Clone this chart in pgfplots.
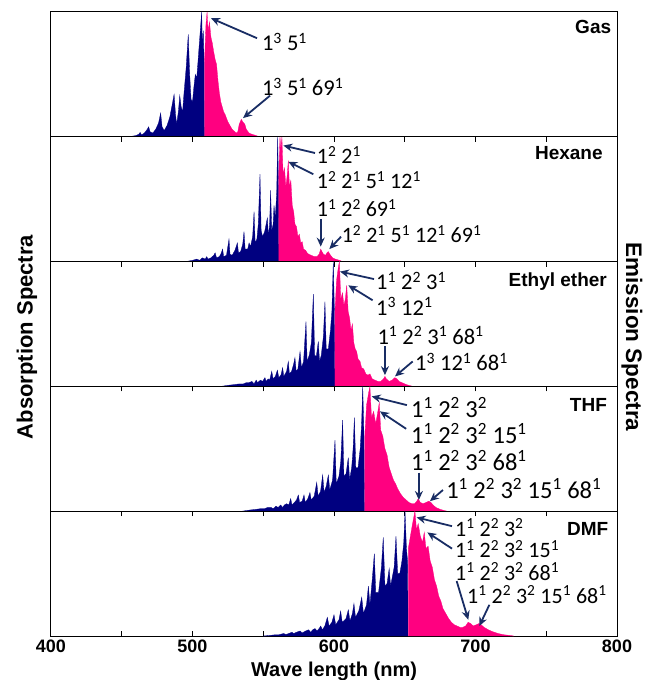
\documentclass[border=0pt]{standalone}
\usepackage{fontspec}
\setmainfont{Liberation Sans}
\newfontfamily\annfont{Carlito}
\usepackage{pgfplots}
\pgfplotsset{compat=1.18}
\usetikzlibrary{arrows.meta}

\definecolor{absc}{RGB}{0,0,128}
\definecolor{emic}{RGB}{255,0,128}
\definecolor{arrc}{RGB}{25,45,100}

\pgfplotsset{
  panel/.style={
    scale only axis, width=566pt, height=124.8pt,
    xmin=400, xmax=800, ymin=0, ymax=1,
    ytick=\empty,
    xtick={400,500,600,700,800},
    minor xtick={450,550,650,750},
    tick pos=bottom, xtick align=outside,
    xticklabels={},
    axis line style={line width=1pt},
    every tick/.style={black, line width=1pt},
    major tick length=5pt, minor tick length=5pt,
    clip=false,
  },
  abs/.style={fill=absc, draw=absc, line width=0.3pt},
  emi/.style={fill=emic, draw=emic, line width=0.3pt},
}
\tikzset{
  ann/.style={font=\annfont\fontsize{22.5}{24}\selectfont, anchor=west, inner sep=0pt},
  annb/.style={font=\annfont\fontsize{24.5}{26}\selectfont, anchor=west, inner sep=0pt},
  anns/.style={font=\annfont\fontsize{22}{24}\selectfont, anchor=west, inner sep=0pt},
  arr/.style={-{Stealth[length=9pt,width=8pt]}, line width=1.8pt, color=arrc},
  lab/.style={font=\bfseries\fontsize{19}{22}\selectfont, anchor=east, inner sep=0pt},
}
\newcommand{\s}[1]{\textsuperscript{#1}}

\begin{document}
\begin{tikzpicture}
\useasboundingbox (-51pt,-44pt) rectangle (599pt,636pt);

% ---- Gas
\begin{axis}[panel, at={(0pt,499.2pt)}, anchor=south west]
\addplot[abs] coordinates {
(455,0)(460,0.01)(462,0.02)(463,0.035)(464,0.015)(466,0.03)(468,0.06)(469,0.08)(470,0.04)
(472,0.03)(474,0.06)(476,0.11)(477.5,0.19)(478.5,0.08)(480,0.05)(482,0.09)(484,0.16)(486,0.28)
(487,0.34)(488,0.18)(488.8,0.1)(490,0.2)(491,0.33)(492,0.24)(493,0.2)(494,0.35)(495.5,0.55)
(497,0.82)(498,0.5)(499,0.3)(500,0.28)(501,0.4)(502,0.5)(503,0.47)(504,0.62)(505.5,0.85)
(506.5,1.0)(507,0.7)(507.6,0.85)(508.2,0.6)(508.4,0)};
\addplot[emi] coordinates {
(508.5,0)(508.5,0.6)(509.5,0.9)(510.3,1.0)(511,0.85)(512,0.92)(513,0.8)(514,0.75)(515,0.68)
(516,0.62)(517,0.58)(518,0.45)(519,0.35)(520,0.28)(521,0.24)(522,0.2)(523,0.18)(524,0.15)
(525,0.12)(526,0.1)(527,0.08)(528,0.06)(529,0.05)(530,0.04)(531,0.03)(532,0.04)(533,0.1)
(534.5,0.14)(535.5,0.12)(537,0.1)(538,0.06)(540,0.03)(542,0.02)(545,0.01)(547,0)};
\node[lab] at (axis cs:796,0.88) {Gas};
\node[ann] at (axis cs:549,0.76) {1\s{3} 5\s{1}};
\draw[arr] (axis cs:545.6,0.79) -- (axis cs:513.1,0.95);
\node[ann] at (axis cs:549,0.40) {1\s{3} 5\s{1} 69\s{1}};
\draw[arr] (axis cs:554.8,0.33) -- (axis cs:535.7,0.15);
\end{axis}

% ---- Hexane
\begin{axis}[panel, at={(0pt,374.4pt)}, anchor=south west]
\addplot[abs] coordinates {
(495,0)(500,0.01)(503,0.02)(505,0.01)(507,0.03)(509,0.02)(510,0.04)(511,0.02)(513,0.03)
(515,0.05)(516,0.07)(517,0.03)(519,0.04)(520,0.06)(521.3,0.10)(522,0.04)(524,0.05)(525.8,0.18)
(526.5,0.06)(528,0.05)(530,0.09)(531.7,0.15)(532.5,0.07)(534,0.08)(535.5,0.14)(536.4,0.24)
(537.2,0.1)(539,0.1)(540,0.15)(541,0.12)(542.5,0.2)(543.5,0.40)(544.3,0.15)(545.5,0.18)
(546.5,0.3)(547.7,0.70)(548.5,0.25)(549.5,0.2)(551,0.24)(552.9,0.35)(553.7,0.2)(554.5,0.3)
(555.2,0.57)(556,0.25)(557,0.3)(557.6,0.45)(558.5,0.35)(559.5,0.55)(560.2,1.0)(560.8,0.6)(561,0)};
\addplot[emi] coordinates {
(561,0)(561,0.7)(561.8,1.0)(562.5,0.9)(563.2,1.0)(564,0.7)(565,0.75)(566,0.6)(567,0.7)
(567.7,0.81)(568.5,0.6)(569.5,0.65)(570.5,0.45)(571.5,0.4)(572.4,0.30)(573.5,0.28)(574.5,0.2)
(575.5,0.22)(576.5,0.15)(577.5,0.16)(578.5,0.1)(580,0.09)(581,0.07)(582,0.06)(584,0.05)
(586,0.04)(588,0.04)(589.5,0.06)(590.6,0.10)(591.5,0.08)(592.5,0.06)(594,0.05)(595,0.07)
(596,0.08)(597,0.06)(599,0.03)(601,0.02)(604,0.01)(606,0)};
\node[lab] at (axis cs:790,0.87) {Hexane};
\node[anns] at (axis cs:587.8,0.855) {1\s{2} 2\s{1}};
\draw[arr] (axis cs:586.6,0.87) -- (axis cs:564.2,0.93);
\node[anns] at (axis cs:587.8,0.655) {1\s{2} 2\s{1} 5\s{1} 12\s{1}};
\draw[arr] (axis cs:585.4,0.70) -- (axis cs:567.7,0.80);
\node[anns] at (axis cs:587.8,0.43) {1\s{1} 2\s{2} 69\s{1}};
\draw[arr] (axis cs:590.6,0.34) -- (axis cs:590.6,0.12);
\node[anns] at (axis cs:605.4,0.22) {1\s{2} 2\s{1} 5\s{1} 12\s{1} 69\s{1}};
\draw[arr] (axis cs:605,0.20) -- (axis cs:596.7,0.10);
\end{axis}

% ---- Ethyl ether
\begin{axis}[panel, at={(0pt,249.6pt)}, anchor=south west]
\addplot[abs] coordinates {
(520,0)(526,0.01)(530,0.015)(533,0.02)(536,0.02)(538,0.03)(540,0.03)(542,0.04)(543.5,0.02)
(545,0.05)(546,0.03)(548,0.05)(549.5,0.04)(551.2,0.07)(552,0.04)(553.5,0.06)(554.5,0.05)
(556,0.12)(557,0.06)(558.5,0.08)(560,0.13)(561,0.07)(562.5,0.09)(563.7,0.15)(564.5,0.08)
(566.5,0.12)(567.7,0.20)(568.5,0.10)(570,0.12)(571.5,0.18)(572.4,0.23)(573.3,0.12)(574.5,0.14)
(576,0.28)(577,0.15)(578.5,0.2)(580.2,0.52)(581,0.2)(582.5,0.25)(584,0.35)(585.4,0.74)
(586.3,0.25)(587.5,0.24)(588.9,0.36)(589.8,0.2)(591,0.25)(592.5,0.4)(593.6,0.68)(594.5,0.3)
(596,0.3)(597.5,0.45)(598.5,0.6)(599.5,1.0)(600.3,0.6)(600.6,0)};
\addplot[emi] coordinates {
(600.7,0)(600.7,0.6)(601.8,0.85)(603,0.95)(603.8,1.0)(604.8,0.7)(606,0.75)(607,0.65)(608,0.7)
(609,0.81)(610,0.6)(611,0.55)(612,0.45)(613,0.5)(614,0.35)(615,0.3)(616,0.28)(617,0.22)
(618.4,0.2)(619.5,0.15)(621,0.14)(622.5,0.1)(624,0.09)(625.4,0.1)(627,0.06)(629,0.05)
(631,0.04)(633,0.04)(635,0.06)(636,0.08)(637,0.06)(639,0.04)(641,0.05)(643,0.07)(644.5,0.06)
(646,0.04)(648,0.03)(651,0.015)(654,0.005)(656,0)};
\node[lab] at (axis cs:793,0.84) {Ethyl ether};
\node[ann] at (axis cs:629.7,0.845) {1\s{1} 2\s{2} 3\s{1}};
\draw[arr] (axis cs:628.3,0.86) -- (axis cs:604.2,0.92);
\node[ann] at (axis cs:629.7,0.64) {1\s{3} 12\s{1}};
\draw[arr] (axis cs:627.3,0.69) -- (axis cs:610.1,0.81);
\node[ann] at (axis cs:630.6,0.41) {1\s{1} 2\s{2} 3\s{1} 68\s{1}};
\draw[arr] (axis cs:636,0.32) -- (axis cs:636,0.09);
\node[ann] at (axis cs:657.2,0.195) {1\s{3} 12\s{1} 68\s{1}};
\draw[arr] (axis cs:655.6,0.20) -- (axis cs:643.1,0.08);
\end{axis}

% ---- THF
\begin{axis}[panel, at={(0pt,124.8pt)}, anchor=south west]
\addplot[abs] coordinates {
(535,0)(541,0.01)(545,0.015)(548,0.02)(551,0.02)(553,0.03)(555.5,0.03)(557,0.02)(559,0.04)
(560.5,0.03)(562.4,0.05)(563.5,0.03)(565,0.05)(566.5,0.06)(568,0.05)(569.4,0.10)(570.3,0.05)
(572,0.07)(573.5,0.09)(574.8,0.13)(575.7,0.07)(577.5,0.08)(578.8,0.13)(579.7,0.07)(581.5,0.1)
(583,0.15)(583.9,0.09)(586,0.12)(587.8,0.23)(588.8,0.12)(590.5,0.16)(592,0.29)(593,0.15)
(594.5,0.2)(596,0.29)(597,0.17)(599,0.25)(600.7,0.57)(601.6,0.22)(603.5,0.28)(604.8,0.4)
(606.1,0.73)(607,0.28)(608.5,0.3)(610.1,0.43)(611,0.25)(612.5,0.35)(613.5,0.5)(614.4,0.75)
(615.4,0.35)(617,0.35)(618.5,0.5)(619.5,0.7)(620.3,1.0)(621.2,0.6)(621.6,0)};
\addplot[emi] coordinates {
(621.8,0)(621.8,0.6)(623,0.85)(624.5,0.95)(625.4,1.0)(626.5,0.75)(628,0.8)(629.5,0.7)(631,0.8)
(632,0.87)(633,0.65)(634.5,0.6)(636,0.5)(637.5,0.45)(639,0.35)(640.5,0.3)(642,0.25)(643.5,0.22)
(645,0.18)(647,0.14)(649,0.11)(651,0.09)(653,0.07)(655,0.06)(657,0.06)(658.5,0.08)(659.5,0.1)
(661,0.07)(663,0.06)(665,0.07)(667,0.08)(668.5,0.07)(670,0.05)(672,0.03)(675,0.015)(678,0.005)(680,0)};
\node[lab] at (axis cs:793,0.85) {THF};
\node[annb] at (axis cs:654.4,0.83) {1\s{1} 2\s{2} 3\s{2}};
\draw[arr] (axis cs:651.5,0.85) -- (axis cs:626.6,0.92);
\node[annb] at (axis cs:654.4,0.625) {1\s{1} 2\s{2} 3\s{2} 15\s{1}};
\draw[arr] (axis cs:651,0.66) -- (axis cs:632.5,0.80);
\node[annb] at (axis cs:654.4,0.405) {1\s{1} 2\s{2} 3\s{2} 68\s{1}};
\draw[arr] (axis cs:660,0.31) -- (axis cs:660,0.09);
\node[annb] at (axis cs:679.2,0.18) {1\s{1} 2\s{2} 3\s{2} 15\s{1} 68\s{1}};
\draw[arr] (axis cs:677,0.17) -- (axis cs:667.8,0.08);
\end{axis}

% ---- DMF
\begin{axis}[panel, at={(0pt,0pt)}, anchor=south west,
  xtick align=inside,
  xticklabels={400,500,600,700,800},
  /pgf/number format/assume math mode=true,
  ticklabel style={font=\bfseries\fontsize{18}{20}\selectfont},
  xlabel={Wave length (nm)},
  xlabel style={font=\bfseries\fontsize{20}{22}\selectfont, yshift=-3pt},
]
\addplot[abs] coordinates {
(550,0)(555,0.005)(558.5,0.01)(561,0.01)(564.4,0.02)(566,0.012)(568,0.02)(570.3,0.03)(571.5,0.02)
(573.5,0.03)(576,0.04)(577.5,0.025)(580,0.04)(582,0.05)(583.5,0.03)(585,0.05)(586.6,0.06)
(588,0.04)(589.5,0.06)(590.6,0.08)(591.8,0.05)(593.5,0.08)(595.3,0.15)(596.5,0.08)(598.5,0.11)
(600,0.17)(601.2,0.09)(603.5,0.13)(604.7,0.20)(605.8,0.11)(608.5,0.14)(610.1,0.21)(611.3,0.12)
(613,0.18)(614.1,0.26)(615.2,0.15)(617.5,0.2)(619.6,0.31)(620.8,0.18)(623,0.25)(624.3,0.40)
(625.4,0.25)(627,0.45)(628.5,0.66)(629.5,0.35)(631.5,0.35)(633.5,0.55)(634.8,0.79)(636,0.4)
(637.5,0.42)(639,0.54)(640,0.4)(642.5,0.55)(643.8,0.80)(645,0.5)(646.5,0.5)(648,0.6)(649.3,0.75)
(650.2,1.0)(651.2,0.7)(652,0.6)(652.3,0)};
\addplot[emi] coordinates {
(652.5,0)(652.5,0.7)(654,0.8)(655.5,0.9)(657.2,1.0)(658.3,0.85)(659.5,0.9)(661,0.8)(662.5,0.75)
(663.8,0.83)(665,0.7)(666.5,0.72)(668,0.6)(669.5,0.55)(671,0.45)(672.5,0.4)(674,0.32)(675.5,0.28)
(677,0.22)(679,0.18)(681,0.14)(683,0.11)(685,0.09)(687,0.08)(689,0.07)(691,0.07)(693,0.08)
(694.8,0.11)(696.5,0.1)(698.5,0.08)(700.5,0.09)(702.5,0.1)(704,0.09)(706,0.07)(709,0.05)
(712,0.035)(716,0.02)(720,0.01)(724,0.005)(727,0)};
\node[lab] at (axis cs:794,0.86) {DMF};
\node[anns] at (axis cs:685.5,0.87) {1\s{1} 2\s{2} 3\s{2}};
\draw[arr] (axis cs:683.4,0.88) -- (axis cs:658.4,0.95);
\node[anns] at (axis cs:685.5,0.695) {1\s{1} 2\s{2} 3\s{2} 15\s{1}};
\draw[arr] (axis cs:683.4,0.70) -- (axis cs:666,0.83);
\node[anns] at (axis cs:685.5,0.515) {1\s{1} 2\s{2} 3\s{2} 68\s{1}};
\draw[arr] (axis cs:686.7,0.44) -- (axis cs:694.9,0.13);
\node[anns] at (axis cs:694,0.33) {1\s{1} 2\s{2} 3\s{2} 15\s{1} 68\s{1}};
\draw[arr] (axis cs:709.8,0.25) -- (axis cs:702.7,0.08);
\end{axis}

\node[rotate=90, font=\bfseries\fontsize{22}{24}\selectfont] at (-24pt,299pt) {Absorption Spectra};
\node[rotate=-90, font=\bfseries\fontsize{22.5}{24}\selectfont] at (581pt,299pt) {Emission Spectra};
\end{tikzpicture}
\end{document}
